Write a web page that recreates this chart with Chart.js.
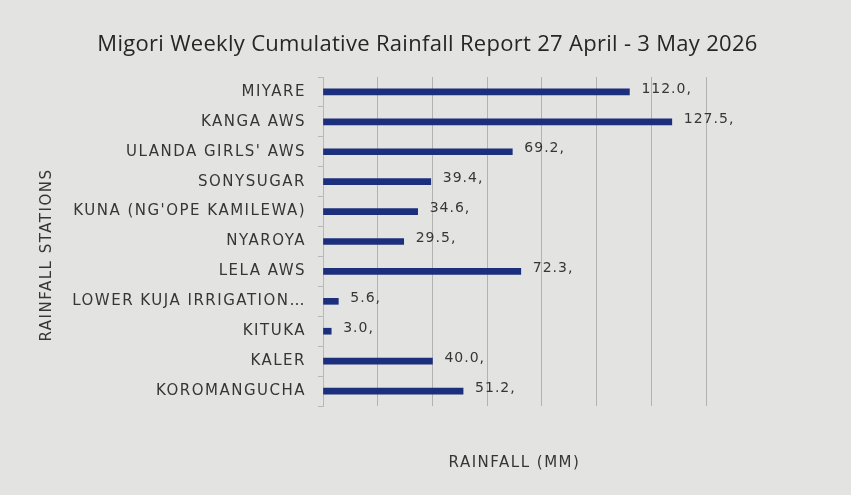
<!DOCTYPE html>
<html>
<head>
<meta charset="utf-8">
<script src="https://cdn.jsdelivr.net/npm/chart.js@4"></script>
<style>
  html, body { margin: 0; padding: 0; background: #e3e3e1; }
  #wrap { width: 851px; height: 495px; }
</style>
</head>
<body>
<div id="wrap"><canvas id="chart" width="851" height="495"></canvas></div>
<script>
// Rainfall stations (top to bottom) and weekly cumulative totals in mm
const stations = [
  "MIYARE",
  "KANGA AWS",
  "ULANDA GIRLS' AWS",
  "SONYSUGAR",
  "KUNA (NG'OPE KAMILEWA)",
  "NYAROYA",
  "LELA AWS",
  "LOWER KUJA IRRIGATION…",
  "KITUKA",
  "KALER",
  "KOROMANGUCHA"
];
const rainfallMm = [112.0, 127.5, 69.2, 39.4, 34.6, 29.5, 72.3, 5.6, 3.0, 40.0, 51.2];
const xAxisMax = 140;
const xAxisStep = 20;

const chartTitle = 'Migori Weekly Cumulative Rainfall Report 27 April - 3 May 2026';
const yAxisTitle = 'RAINFALL STATIONS';
const xAxisTitle = 'RAINFALL (MM)';

const titleFont = "'Open Sans', 'DejaVu Sans', sans-serif";
const labelFont = "'DejaVu Sans', 'Open Sans', sans-serif";
const textColor = '#363636';

// Background, page-centred heading and the rotated station-axis caption
const framePlugin = {
  id: 'frame',
  beforeDraw(chart) {
    const { ctx, width, height } = chart;
    ctx.save();
    ctx.fillStyle = '#e3e3e1';
    ctx.fillRect(0, 0, width, height);

    ctx.fillStyle = '#262626';
    ctx.font = `22px ${titleFont}`;
    ctx.letterSpacing = '0.3px';
    ctx.textAlign = 'center';
    ctx.textBaseline = 'middle';
    ctx.fillText(chartTitle, width / 2 + 2, 45);

    ctx.fillStyle = textColor;
    ctx.font = `15px ${labelFont}`;
    ctx.letterSpacing = '1.5px';
    ctx.translate(47, 255);
    ctx.rotate(-Math.PI / 2);
    ctx.fillText(yAxisTitle, 0, 0);
    ctx.restore();

    // open letter spacing for the axis text drawn by the library
    ctx.letterSpacing = '1.5px';
  },
  afterDraw(chart) {
    chart.ctx.letterSpacing = '0px';
  }
};

// Write each bar's value just past its end, followed by a comma separator
const valueLabelPlugin = {
  id: 'valueLabels',
  afterDatasetsDraw(chart) {
    const { ctx } = chart;
    const meta = chart.getDatasetMeta(0);
    ctx.save();
    ctx.font = `14px ${labelFont}`;
    ctx.letterSpacing = '1px';
    ctx.fillStyle = textColor;
    ctx.textAlign = 'left';
    ctx.textBaseline = 'middle';
    meta.data.forEach((bar, i) => {
      const v = chart.data.datasets[0].data[i];
      ctx.fillText(v.toFixed(1) + ',', bar.x + 12, bar.y - 3);
    });
    ctx.restore();
  }
};

new Chart(document.getElementById('chart'), {
  type: 'bar',
  data: {
    labels: stations,
    datasets: [{
      data: rainfallMm,
      backgroundColor: '#1b2f7d',
      barThickness: 6
    }]
  },
  plugins: [framePlugin, valueLabelPlugin],
  options: {
    indexAxis: 'y',
    responsive: false,
    animation: false,
    layout: { padding: { left: 30, right: 145, top: 77, bottom: 20 } },
    plugins: {
      legend: { display: false },
      tooltip: { enabled: false },
      title: { display: false }
    },
    scales: {
      x: {
        min: 0,
        max: xAxisMax,
        ticks: { display: false, stepSize: xAxisStep },
        grid: { color: 'rgba(110,110,110,0.42)', lineWidth: 1, drawTicks: false },
        border: { display: false },
        title: {
          display: true,
          text: xAxisTitle,
          color: textColor,
          font: { family: labelFont, size: 15 },
          padding: { top: 48, bottom: 3 }
        }
      },
      y: {
        ticks: {
          color: textColor,
          font: { family: labelFont, size: 15 },
          padding: 12,
          autoSkip: false
        },
        grid: {
          display: true,
          drawOnChartArea: false,
          drawTicks: true,
          tickLength: 5,
          color: '#b8b8b8'
        },
        border: { display: true, color: '#b8b8b8' },
        title: { display: false },
        afterFit(scale) { scale.width = 293; }
      }
    }
  }
});
</script>
</body>
</html>
